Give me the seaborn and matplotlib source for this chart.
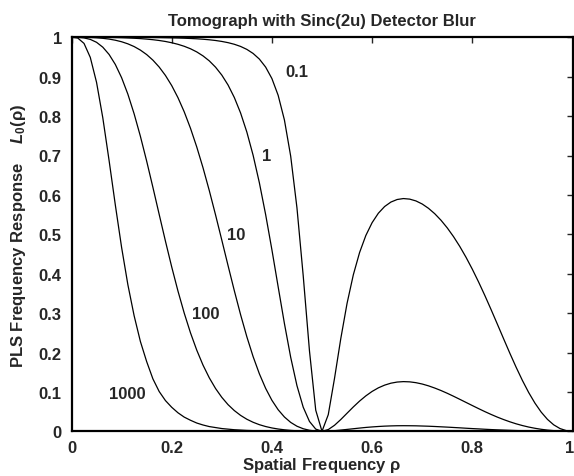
import matplotlib
matplotlib.use("Agg")
import matplotlib.pyplot as plt
from matplotlib.transforms import ScaledTranslation
import seaborn as sns
import pandas as pd

# ---- data (spatial frequency grid, step 0.0125) ----
rho = [0.0, 0.0125, 0.025, 0.0375, 0.05, 0.0625, 0.075, 0.0875, 0.1, 0.1125,
       0.125, 0.1375, 0.15, 0.1625, 0.175, 0.1875, 0.2, 0.2125, 0.225, 0.2375,
       0.25, 0.2625, 0.275, 0.2875, 0.3, 0.3125, 0.325, 0.3375, 0.35, 0.3625,
       0.375, 0.3875, 0.4, 0.4125, 0.425, 0.4375, 0.45, 0.4625, 0.475, 0.4875,
       0.5, 0.5125, 0.525, 0.5375, 0.55, 0.5625, 0.575, 0.5875, 0.6, 0.6125,
       0.625, 0.6375, 0.65, 0.6625, 0.675, 0.6875, 0.7, 0.7125, 0.725, 0.7375,
       0.75, 0.7625, 0.775, 0.7875, 0.8, 0.8125, 0.825, 0.8375, 0.85, 0.8625,
       0.875, 0.8875, 0.9, 0.9125, 0.925, 0.9375, 0.95, 0.9625, 0.975, 0.9875, 1.0]

L_01 = [1.0, 1.0, 1.0, 1.0, 1.0, 1.0, 1.0, 0.9999, 0.9999, 0.9998,
        0.9998, 0.9997, 0.9995, 0.9994, 0.9992, 0.9989, 0.9986, 0.9982, 0.9977, 0.9970,
        0.9962, 0.9951, 0.9937, 0.9919, 0.9895, 0.9864, 0.9823, 0.9768, 0.9693, 0.9590,
        0.9447, 0.9244, 0.8953, 0.8527, 0.7901, 0.6983, 0.5673, 0.3948, 0.2040, 0.0536,
        0.0, 0.0422, 0.1345, 0.2353, 0.3246, 0.3971, 0.4537, 0.4970, 0.5295, 0.5535,
        0.5705, 0.5818, 0.5883, 0.5907, 0.5893, 0.5847, 0.5769, 0.5660, 0.5523, 0.5357,
        0.5163, 0.4941, 0.4692, 0.4416, 0.4115, 0.3791, 0.3448, 0.3089, 0.2720, 0.2348,
        0.1980, 0.1625, 0.1291, 0.0985, 0.0716, 0.0487, 0.0303, 0.0164, 0.0070, 0.0017, 0.0]

L_1 = [1.0, 1.0, 1.0, 1.0, 0.9999, 0.9997, 0.9995, 0.9993, 0.9989, 0.9983,
       0.9976, 0.9967, 0.9954, 0.9939, 0.9919, 0.9894, 0.9862, 0.9822, 0.9772, 0.9709,
       0.9629, 0.9528, 0.9402, 0.9242, 0.9041, 0.8789, 0.8472, 0.8079, 0.7594, 0.7006,
       0.6307, 0.5501, 0.4608, 0.3667, 0.2735, 0.1879, 0.1159, 0.0612, 0.0250, 0.0056,
       0.0, 0.0044, 0.0153, 0.0299, 0.0459, 0.0618, 0.0767, 0.0899, 0.1012, 0.1103,
       0.1172, 0.1221, 0.1250, 0.1261, 0.1255, 0.1234, 0.1200, 0.1154, 0.1098, 0.1035,
       0.0965, 0.0890, 0.0812, 0.0733, 0.0654, 0.0576, 0.0500, 0.0428, 0.0360, 0.0298,
       0.0241, 0.0190, 0.0146, 0.0108, 0.0077, 0.0051, 0.0031, 0.0017, 0.0007, 0.0002, 0.0]

L_10 = [1.0, 1.0, 0.9998, 0.9995, 0.9987, 0.9974, 0.9955, 0.9926, 0.9887, 0.9834,
        0.9765, 0.9675, 0.9562, 0.9420, 0.9245, 0.9032, 0.8775, 0.8468, 0.8108, 0.7691,
        0.7217, 0.6689, 0.6111, 0.5494, 0.4853, 0.4205, 0.3568, 0.2960, 0.2399, 0.1896,
        0.1459, 0.1090, 0.0787, 0.0547, 0.0363, 0.0226, 0.0129, 0.0065, 0.0026, 0.0006,
        0.0, 0.0004, 0.0016, 0.0031, 0.0048, 0.0065, 0.0082, 0.0098, 0.0111, 0.0122,
        0.0131, 0.0137, 0.0141, 0.0142, 0.0141, 0.0139, 0.0134, 0.0129, 0.0122, 0.0114,
        0.0106, 0.0097, 0.0088, 0.0078, 0.0069, 0.0061, 0.0052, 0.0044, 0.0037, 0.0031,
        0.0025, 0.0019, 0.0015, 0.0011, 0.0008, 0.0005, 0.0003, 0.0002, 0.0001, 0.0, 0.0]

L_100 = [1.0, 0.9998, 0.9984, 0.9947, 0.9873, 0.9749, 0.9565, 0.9310, 0.8975, 0.8557,
         0.8058, 0.7488, 0.6859, 0.6191, 0.5506, 0.4827, 0.4173, 0.3560, 0.3000, 0.2499,
         0.2060, 0.1680, 0.1358, 0.1087, 0.0862, 0.0676, 0.0526, 0.0404, 0.0306, 0.0229,
         0.0168, 0.0121, 0.0085, 0.0058, 0.0038, 0.0023, 0.0013, 0.0007, 0.0003, 0.0001,
         0.0, 0.0, 0.0002, 0.0003, 0.0005, 0.0007, 0.0008, 0.0010, 0.0011, 0.0012,
         0.0013, 0.0014, 0.0014, 0.0014, 0.0014, 0.0014, 0.0014, 0.0013, 0.0012, 0.0012,
         0.0011, 0.0010, 0.0009, 0.0008, 0.0007, 0.0006, 0.0005, 0.0004, 0.0004, 0.0003,
         0.0002, 0.0002, 0.0001, 0.0001, 0.0001, 0.0, 0.0, 0.0, 0.0, 0.0, 0.0]

L_1000 = [1.0, 0.9981, 0.9845, 0.9490, 0.8856, 0.7955, 0.6875, 0.5742, 0.4667, 0.3722,
          0.2933, 0.2280, 0.1770, 0.1330, 0.1010, 0.0780, 0.0610, 0.0470, 0.0360, 0.0280,
          0.0210, 0.0160, 0.0120, 0.0095, 0.0070, 0.0055, 0.0040, 0.0031, 0.0022, 0.0017,
          0.0012, 0.0009, 0.0006, 0.0005, 0.0003, 0.0002, 0.0001, 0.0001, 0.0, 0.0,
          0.0, 0.0, 0.0, 0.0, 0.0, 0.0001, 0.0001, 0.0001, 0.0001, 0.0001,
          0.0001, 0.0001, 0.0001, 0.0001, 0.0001, 0.0001, 0.0001, 0.0001, 0.0001, 0.0001,
          0.0001, 0.0001, 0.0001, 0.0001, 0.0001, 0.0001, 0.0, 0.0, 0.0, 0.0,
          0.0, 0.0, 0.0, 0.0, 0.0, 0.0, 0.0, 0.0, 0.0, 0.0, 0.0]

curve_labels = ["0.1", "1", "10", "100", "1000"]
label_x = [0.450, 0.389, 0.329, 0.268, 0.112]
label_y = [0.912, 0.700, 0.500, 0.298, 0.096]

title = "Tomograph with Sinc(2u) Detector Blur"
xlabel = r"Spatial Frequency $\mathrm{\rho}$"
ylabel = r"PLS Frequency Response $\quad L_{\mathit{0}}(\mathrm{\rho})$"
xticks = [0, 0.2, 0.4, 0.6, 0.8, 1]
xticklabels = ["0", "0.2", "0.4", "0.6", "0.8", "1"]
yticks = [0, 0.1, 0.2, 0.3, 0.4, 0.5, 0.6, 0.7, 0.8, 0.9, 1]
yticklabels = ["0", "0.1", "0.2", "0.3", "0.4", "0.5", "0.6", "0.7", "0.8", "0.9", "1"]

frames = []
for lab, vals in zip(curve_labels, [L_01, L_1, L_10, L_100, L_1000]):
    frames.append(pd.DataFrame({"rho": rho, "L": vals, "beta": lab}))
df = pd.concat(frames, ignore_index=True)

sns.set_style("white")
plt.rcParams["font.family"] = ["Liberation Sans", "DejaVu Sans"]
plt.rcParams["font.weight"] = "bold"
plt.rcParams["mathtext.fontset"] = "custom"
plt.rcParams["mathtext.rm"] = "Liberation Sans"
plt.rcParams["mathtext.it"] = "Liberation Sans:italic"
plt.rcParams["mathtext.bf"] = "Liberation Sans:bold"

FS = 12
fig = plt.figure(figsize=(5.74, 4.77), dpi=100)
ax = fig.add_axes([71.5 / 574, 1 - 432.3 / 477, (572.5 - 71.5) / 574, (432.3 - 38.3) / 477])

sns.lineplot(data=df, x="rho", y="L", hue="beta", units="beta", estimator=None,
             palette=["black"] * 5, linewidth=0.9, legend=False, sort=False, ax=ax)

for lab, lx, ly in zip(curve_labels, label_x, label_y):
    ax.text(lx, ly, lab, ha="center", va="center", fontsize=FS, fontweight="bold")

ax.set_xlim(0, 1)
ax.set_ylim(0, 1)
ax.set_xticks(xticks)
ax.set_xticklabels(xticklabels)
ax.set_yticks(yticks)
ax.set_yticklabels(yticklabels)
ax.tick_params(direction="in", length=4, width=1, top=True, right=True, labelsize=FS)
ax.tick_params(axis="x", pad=6)
ax.tick_params(axis="y", pad=7)
for lbl in ax.get_xticklabels() + ax.get_yticklabels():
    lbl.set_fontweight("bold")
# keep the last x tick label "1" inside the figure edge
last = ax.get_xticklabels()[-1]
last.set_transform(last.get_transform() + ScaledTranslation(-3 / 100, 0, fig.dpi_scale_trans))
for s in ax.spines.values():
    s.set_visible(True)
    s.set_linewidth(1.6)
    s.set_color("black")

ax.set_xlabel("")
ax.set_ylabel("")
fig.text(322 / 574, 1 - 26 / 477, title, ha="center", va="baseline",
         fontsize=FS, fontweight="bold")
fig.text(322 / 574, 1 - 456.5 / 477, xlabel, ha="center", va="top",
         fontsize=FS, fontweight="bold")
fig.text(19 / 574, 1 - 236 / 477, ylabel, ha="center", va="center", rotation=90,
         fontsize=FS, fontweight="bold")

fig.savefig("out.png", dpi=100, facecolor="white")
